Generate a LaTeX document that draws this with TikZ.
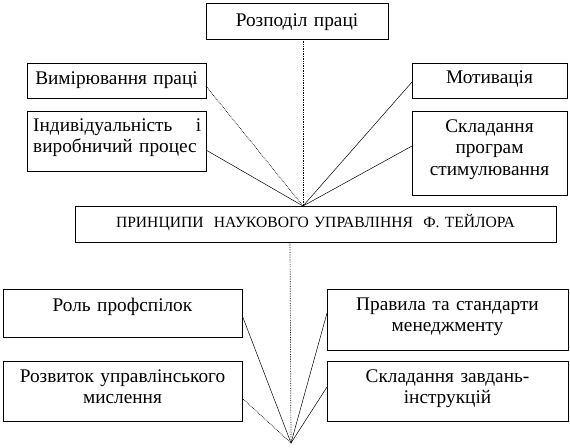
\documentclass[tikz,border=0pt]{standalone}
\usepackage{fontspec}
\setmainfont{Liberation Serif}
\usetikzlibrary{calc}
\begin{document}
\begin{tikzpicture}[x=1pt,y=-1pt,
  box/.style={draw=black, line width=0.6pt, inner sep=0pt, outer sep=0pt, anchor=north west},
  txt/.style={font=\fontsize{19.3}{21.5}\selectfont, inner sep=0pt, anchor=base, text width=236pt, align=center},
  link/.style={draw=black, line width=0.5pt},
  dlink/.style={draw=black, line width=0.7pt, densely dotted}]
\useasboundingbox (0,0) rectangle (570,447);
% boxes
\node[box, minimum width=182pt, minimum height=36pt] (top) at (206,3) {};
\node[box, minimum width=179pt, minimum height=35pt] (vim) at (27,63) {};
\node[box, minimum width=179pt, minimum height=60pt] (ind) at (27,111) {};
\node[box, minimum width=155pt, minimum height=35pt] (mot) at (412,63) {};
\node[box, minimum width=155pt, minimum height=84pt] (skl) at (412,111) {};
\node[box, minimum width=481pt, minimum height=36pt] (main) at (75,206) {};
\node[box, minimum width=239pt, minimum height=48pt] (rol) at (3,289) {};
\node[box, minimum width=239pt, minimum height=60pt] (roz) at (3,361) {};
\node[box, minimum width=241pt, minimum height=61pt] (pra) at (327,289) {};
\node[box, minimum width=241pt, minimum height=60pt] (zav) at (327,361) {};
% texts
\node[txt] (ttop) at (297,26) {Розподіл праці};
\node[txt] (tvim) at (116.5,84) {Вимірювання праці};
\node[txt, anchor=base west, text width=168pt, align=left] (tind) at (33,131) {Індивідуальність\hfill і\\\mbox{виробничий процес}};
\node[txt, text width=150pt] (tmot) at (489.5,83) {Мотивація};
\node[txt, text width=150pt] (tskl) at (489.5,132) {Складання\\програм\\стимулювання};
\node[txt, text width=470pt, font=\fontsize{15.6}{18}\selectfont] (tmain) at (315.5,227) {ПРИНЦИПИ~ НАУКОВОГО УПРАВЛІННЯ~ Ф. ТЕЙЛОРА};
\node[txt] (trol) at (122.5,311) {Роль профспілок};
\node[txt] (troz) at (122.5,382) {Розвиток управлінського\\мислення};
\node[txt] (tpra) at (447.5,310) {Правила та стандарти\\менеджменту};
\node[txt] (tzav) at (447.5,382) {Складання завдань-\\інструкцій};
% hubs
\coordinate (hubT) at ($(main.north west)+(228,0)$);
\coordinate (hubB) at (291,443);
% connectors top
\draw[dlink] (hubT |- top.south) -- (hubT);
\draw[dlink] ($(vim.north east)+(0,23)$) -- (hubT);
\draw[link] ($(ind.north east)+(0,39)$) -- (hubT);
\draw[link] ($(mot.north west)+(0,19)$) -- (hubT);
\draw[link] ($(skl.north west)+(0,35)$) -- (hubT);
% connectors bottom
\draw[dlink] ($(main.south west)+(215,0)$) -- (hubB);
\draw[link] ($(rol.north east)+(0,26)$) -- (hubB);
\draw[dlink] ($(roz.north east)+(0,37)$) -- (hubB);
\draw[link] ($(pra.north west)+(0,24)$) -- (hubB);
\draw[link] ($(zav.north west)+(0,26)$) -- (hubB);
\end{tikzpicture}
\end{document}
